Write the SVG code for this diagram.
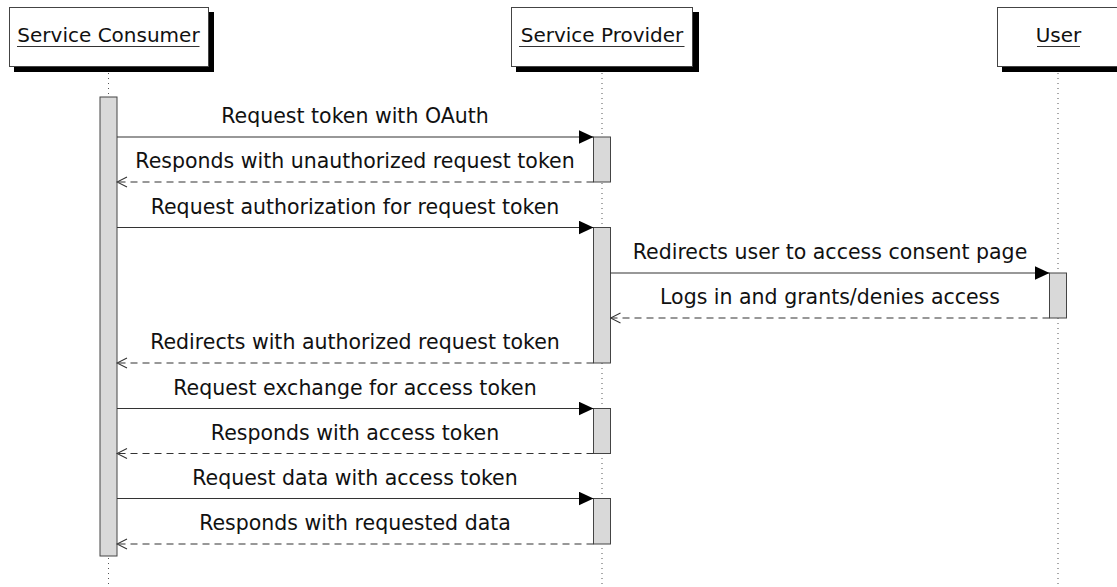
<svg xmlns="http://www.w3.org/2000/svg" width="1117" height="587" viewBox="0 0 1117 587">
<style>
  .hdr { fill:#fff; stroke:#444; stroke-width:1; }
  .shadow { fill:#000; }
  .htxt { font-family:"DejaVu Sans", sans-serif; font-size:20px; fill:#111; text-anchor:middle; }
  .ul { stroke:#333; stroke-width:1.2; }
  .life { stroke:#555; stroke-width:1; stroke-dasharray:1 4; fill:none; }
  .act { fill:#d9d9d9; stroke:#444; stroke-width:1; }
  .msg { stroke:#333; stroke-width:1.2; fill:none; }
  .ret { stroke:#333; stroke-width:1.2; fill:none; stroke-dasharray:7 5; }
  .mtxt { font-family:"DejaVu Sans", sans-serif; font-size:20.5px; fill:#111; text-anchor:middle; }
</style>
<defs>
  <marker id="solid" markerWidth="16" markerHeight="14" refX="15" refY="7" orient="auto" markerUnits="userSpaceOnUse">
    <path d="M0,0 L15,7 L0,14 Z" fill="#000"/>
  </marker>
  <marker id="open" markerWidth="12" markerHeight="12" refX="11" refY="6" orient="auto" markerUnits="userSpaceOnUse">
    <path d="M1,1 L11,6 L1,11" fill="none" stroke="#333" stroke-width="1.1"/>
  </marker>
</defs>

<g id="lifelines">
  <line class="life" x1="108.5" y1="68" x2="108.5" y2="587"/>
  <line class="life" x1="602" y1="68" x2="602" y2="587"/>
  <line class="life" x1="1058" y1="68" x2="1058" y2="587"/>
</g>

<g id="node-service-consumer">
  <rect class="shadow" x="14" y="12" width="200" height="60"/>
  <rect class="hdr" x="9.5" y="7.5" width="199" height="59"/>
  <text class="htxt" x="108.5" y="42">Service Consumer</text>
  <line class="ul" x1="17" y1="46.5" x2="199.5" y2="46.5"/>
</g>

<g id="node-service-provider">
  <rect class="shadow" x="516" y="12" width="183" height="60"/>
  <rect class="hdr" x="511.5" y="7.5" width="181" height="59"/>
  <text class="htxt" x="602" y="42">Service Provider</text>
  <line class="ul" x1="519" y1="46.5" x2="684.5" y2="46.5"/>
</g>

<g id="node-user">
  <rect class="shadow" x="1002" y="12" width="122" height="60"/>
  <rect class="hdr" x="997.5" y="7.5" width="122" height="59"/>
  <text class="htxt" x="1058.5" y="42">User</text>
  <line class="ul" x1="1037" y1="46.5" x2="1080" y2="46.5"/>
</g>

<g id="activations">
  <rect class="act" x="100" y="97" width="17" height="459"/>
  <rect class="act" x="593.5" y="137" width="17" height="45"/>
  <rect class="act" x="593.5" y="227.5" width="17" height="135.5"/>
  <rect class="act" x="593.5" y="408.5" width="17" height="45"/>
  <rect class="act" x="593.5" y="498.5" width="17" height="45.5"/>
  <rect class="act" x="1049.5" y="273" width="17" height="45"/>
</g>

<g id="connectors">
  <line class="msg" x1="117" y1="137" x2="593.5" y2="137" marker-end="url(#solid)"/>
  <text class="mtxt" x="355" y="123">Request token with OAuth</text>

  <line class="ret" x1="593.5" y1="182" x2="117" y2="182" marker-end="url(#open)"/>
  <text class="mtxt" x="355" y="168">Responds with unauthorized request token</text>

  <line class="msg" x1="117" y1="227.5" x2="593.5" y2="227.5" marker-end="url(#solid)"/>
  <text class="mtxt" x="355" y="213.5">Request authorization for request token</text>

  <line class="msg" x1="610.5" y1="273" x2="1049.5" y2="273" marker-end="url(#solid)"/>
  <text class="mtxt" x="830" y="259">Redirects user to access consent page</text>

  <line class="ret" x1="1049.5" y1="318" x2="610.5" y2="318" marker-end="url(#open)"/>
  <text class="mtxt" x="830" y="304">Logs in and grants/denies access</text>

  <line class="ret" x1="593.5" y1="363" x2="117" y2="363" marker-end="url(#open)"/>
  <text class="mtxt" x="355" y="349">Redirects with authorized request token</text>

  <line class="msg" x1="117" y1="408.5" x2="593.5" y2="408.5" marker-end="url(#solid)"/>
  <text class="mtxt" x="355" y="394.5">Request exchange for access token</text>

  <line class="ret" x1="593.5" y1="453.5" x2="117" y2="453.5" marker-end="url(#open)"/>
  <text class="mtxt" x="355" y="439.5">Responds with access token</text>

  <line class="msg" x1="117" y1="498.5" x2="593.5" y2="498.5" marker-end="url(#solid)"/>
  <text class="mtxt" x="355" y="484.5">Request data with access token</text>

  <line class="ret" x1="593.5" y1="544" x2="117" y2="544" marker-end="url(#open)"/>
  <text class="mtxt" x="355" y="530">Responds with requested data</text>
</g>
</svg>
